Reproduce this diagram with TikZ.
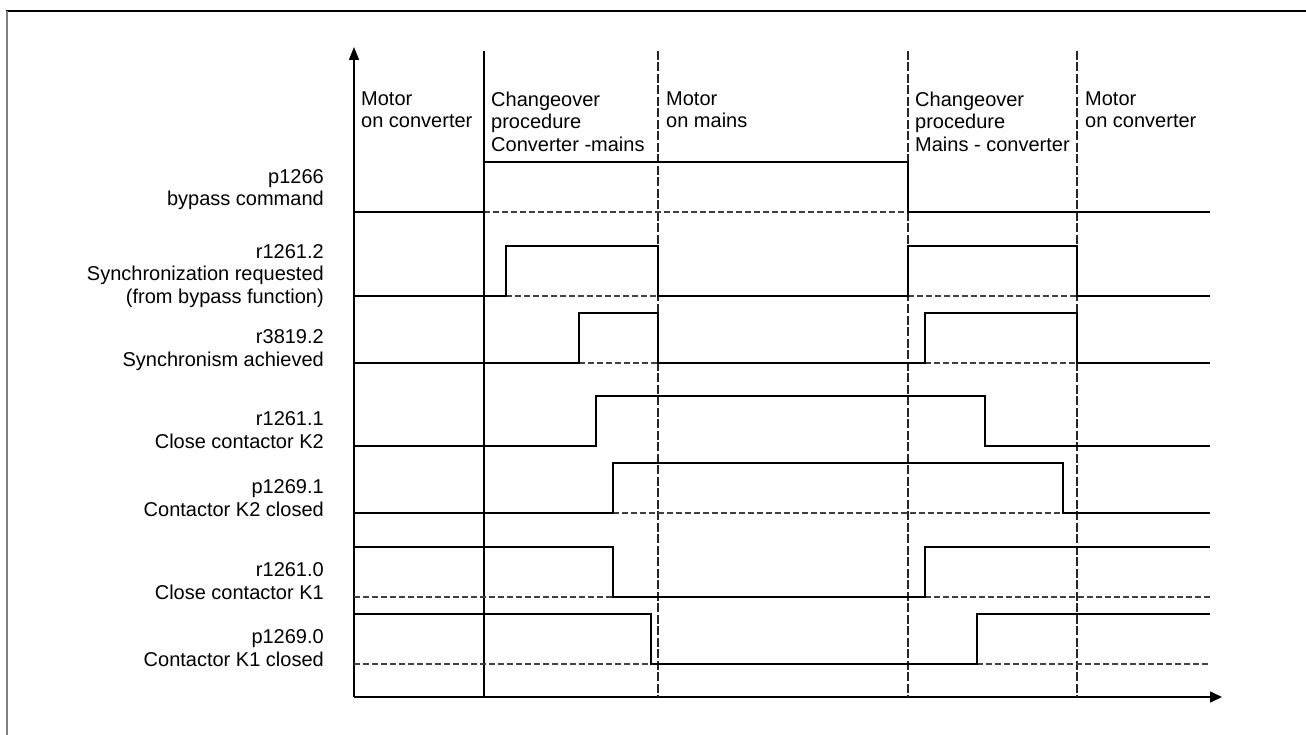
\documentclass[tikz,border=0pt]{standalone}
\usepackage{fontspec}
\setmainfont{Liberation Sans}
\usetikzlibrary{arrows.meta}
\begin{document}
\begin{tikzpicture}[x=1pt,y=-1pt,
  sig/.style={line width=1.5pt, line join=miter},
  basedash/.style={line width=1.3pt, black!75, dash pattern=on 6pt off 3pt},
  vdash/.style={line width=1.2pt, black!85, dash pattern=on 9pt off 2.5pt},
  vsolid/.style={line width=1.3pt},
  axis/.style={line width=1.5pt},
  lbl/.style={inner sep=0pt, align=right, anchor=north east, font=\fontsize{20}{22.5}\selectfont},
  phase/.style={inner sep=0pt, align=left, anchor=north west, font=\fontsize{20}{22.5}\selectfont}]
\useasboundingbox (0,0) rectangle (1306,735);
% frame
\draw[line width=1.3pt] (6,11) -- (1306,11);
\draw[gray, line width=2pt] (6.5,11) -- (6.5,735);

% axes
\coordinate (O) at (354,697);
\coordinate (Ytip) at (354,47);
\coordinate (Xtip) at (1222,697);
\draw[axis, -{Triangle[length=13pt,width=10pt]}] (O) -- (Ytip);
\draw[axis, -{Triangle[length=12pt,width=11pt]}] (O) -- (Xtip);

% phase separators
\draw[vsolid] (484,51) -- (484,697);
\draw[vdash] (658,51) -- (658,697);
\draw[vdash] (908,51) -- (908,697);
\draw[vdash] (1077,51) -- (1077,697);

% phase labels
\node[phase] (ph1) at (361,91.5) {Motor\\on converter};
\node[phase] (ph2) at (491,91.5) {Changeover\\procedure\\Converter -mains};
\node[phase] (ph3) at (666,91.5) {Motor\\on mains};
\node[phase] (ph4) at (915,91.5) {Changeover\\procedure\\Mains - converter};
\node[phase] (ph5) at (1085,91.5) {Motor\\on converter};

% signal labels
\node[lbl] (l1) at (324,169) {p1266\\bypass command};
\node[lbl] (l2) at (324,244) {r1261.2\\Synchronization requested\\(from bypass function)};
\node[lbl] (l3) at (324,329.5) {r3819.2\\Synchronism achieved};
\node[lbl] (l4) at (324,411.5) {r1261.1\\Close contactor K2};
\node[lbl] (l5) at (324,479.5) {p1269.1\\Contactor K2 closed};
\node[lbl] (l6) at (324,562.5) {r1261.0\\Close contactor K1};
\node[lbl] (l7) at (324,629.5) {p1269.0\\Contactor K1 closed};

% p1266
\draw[basedash] (484,212) -- (908,212);
\draw[sig] (354,212) -- (484,212) -- (484,162) -- (908,162) -- (908,212) -- (1210,212);
% r1261.2
\draw[basedash] (506,296) -- (658,296);
\draw[basedash] (908,296) -- (1077,296);
\draw[sig] (354,296) -- (506,296) -- (506,246) -- (658,246) -- (658,296) -- (908,296) -- (908,246) -- (1077,246) -- (1077,296) -- (1210,296);
% r3819.2
\draw[basedash] (579,363) -- (658,363);
\draw[basedash] (925,363) -- (1077,363);
\draw[sig] (354,363) -- (579,363) -- (579,313) -- (658,313) -- (658,363) -- (925,363) -- (925,313) -- (1077,313) -- (1077,363) -- (1210,363);
% r1261.1
\draw[sig] (354,446) -- (596,446) -- (596,396) -- (985,396) -- (985,446) -- (1210,446);
% p1269.1
\draw[basedash] (613,513) -- (1063,513);
\draw[sig] (354,513) -- (613,513) -- (613,463) -- (1063,463) -- (1063,513) -- (1210,513);
% r1261.0
\draw[basedash] (354,597) -- (613,597);
\draw[basedash] (925,597) -- (1210,597);
\draw[sig] (354,547) -- (613,547) -- (613,597) -- (925,597) -- (925,547) -- (1210,547);
% p1269.0
\draw[basedash] (354,664) -- (651,664);
\draw[basedash] (977,664) -- (1210,664);
\draw[sig] (354,614) -- (651,614) -- (651,664) -- (977,664) -- (977,614) -- (1210,614);
\end{tikzpicture}
\end{document}
